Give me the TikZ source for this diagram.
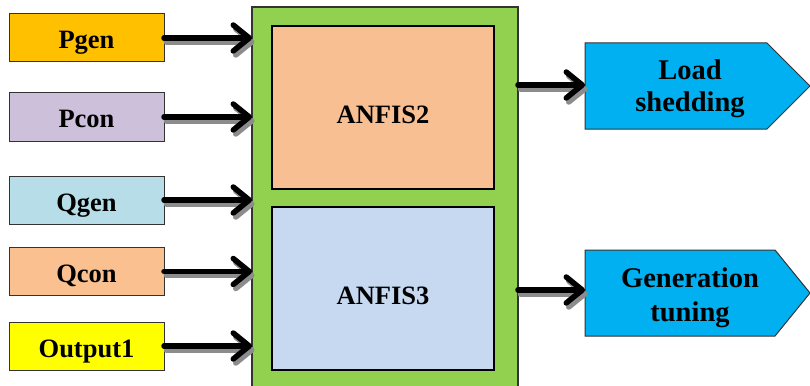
\documentclass[tikz,border=0pt]{standalone}
\usepackage{fontspec}
\setmainfont{Liberation Serif}
\usetikzlibrary{arrows.meta,calc}
\definecolor{cPgen}{HTML}{FFC000}
\definecolor{cPcon}{HTML}{CCC0DA}
\definecolor{cQgen}{HTML}{B7DEE8}
\definecolor{cQcon}{HTML}{FAC090}
\definecolor{cOut}{HTML}{FFFF00}
\definecolor{cGreen}{HTML}{92D050}
\definecolor{cAnf2}{HTML}{F8C092}
\definecolor{cAnf3}{HTML}{C6D9F1}
\definecolor{cBlue}{HTML}{00B0F0}
\definecolor{cEdge}{HTML}{333333}
\definecolor{cShade}{HTML}{8C8C8C}
\tikzset{
  inbox/.style={draw=cEdge, line width=1pt, minimum width=155pt, minimum height=48pt,
    inner sep=0pt, outer sep=0pt, text height=22pt, text depth=0pt,
    font=\fontsize{26.5}{28}\selectfont\bfseries},
  anfis/.style={draw=black, line width=1.2pt, minimum width=222pt, minimum height=163pt,
    inner sep=0pt, outer sep=0pt, text height=31pt, text depth=0pt,
    font=\fontsize{26.5}{28}\selectfont\bfseries},
  outtext/.style={inner sep=0pt, outer sep=0pt, anchor=base,
    font=\fontsize{28.5}{30}\selectfont\bfseries},
  barb/.style={-{Straight Barb[length=16pt, width=26pt, line cap=round, line join=round]}},
  flow/.style={line width=5.5pt, line cap=round, line join=round, barb, draw=black},
  flowshadow/.style={line width=5.5pt, line cap=round, line join=round, barb, draw=cShade},
}
\begin{document}
\begin{tikzpicture}[x=1pt, y=-1pt]
\useasboundingbox (0,0) rectangle (810,385);
\clip (0,0) rectangle (810,385);

% inputs
\node[inbox, fill=cPgen] (pgen) at (86.5,38) {Pgen};
\node[inbox, fill=cPcon] (pcon) at (86.5,117) {Pcon};
\node[inbox, fill=cQgen] (qgen) at (86.5,200) {Qgen};
\node[inbox, fill=cQcon] (qcon) at (86.5,271.5) {Qcon};
\node[inbox, fill=cOut] (out1) at (86.5,346) {Output1};

% controller block
\node[draw=cEdge, line width=2pt, fill=cGreen, minimum width=266pt, minimum height=390pt,
  inner sep=0pt, outer sep=0pt, anchor=north west] (ctrl) at (252,7) {};
\node[anfis, fill=cAnf2] (anf2) at (383,107.5) {ANFIS2};
\node[anfis, fill=cAnf3] (anf3) at (383,288.5) {ANFIS3};

% outputs (pentagon tags)
\coordinate (lsA) at (585,43);
\coordinate (lsB) at (767,43);
\coordinate (lsC) at (810,86);
\coordinate (lsD) at (767,129);
\coordinate (lsE) at (585,129);
\fill[cBlue] (lsA) -- (lsB) -- (lsC) -- (lsD) -- (lsE) -- cycle;
\draw[cEdge, line width=1pt] (lsC) -- (lsB) -- (lsA) -- (lsE) -- (lsD) -- (lsC);
\node[outtext] (ls1) at (690,80) {Load};
\node[outtext] (ls2) at (690,112) {shedding};
\coordinate (lsIn) at (585,85);

\coordinate (gtA) at (585,250);
\coordinate (gtB) at (775,250);
\coordinate (gtC) at (810,293);
\coordinate (gtD) at (775,336);
\coordinate (gtE) at (585,336);
\fill[cBlue] (gtA) -- (gtB) -- (gtC) -- (gtD) -- (gtE) -- cycle;
\draw[cEdge, line width=1pt] (gtC) -- (gtB) -- (gtA) -- (gtE) -- (gtD) -- (gtC);
\node[outtext] (gt1) at (690,287) {Generation};
\node[outtext] (gt2) at (690,321) {tuning};
\coordinate (gtIn) at (585,290);

% connectors, each with a grey drop shadow underneath
\foreach \n in {pgen,pcon,qgen,qcon,out1}{
  \path (\n.east) coordinate (s) (\n.east -| ctrl.west) coordinate (e);
  \draw[flowshadow] ($(s)+(2.5,4)$) -- ($(e)+(2.5,4)$);
  \draw[flow] (s) -- (e);
}
\foreach \t in {lsIn,gtIn}{
  \path (ctrl.east |- \t) coordinate (s) (\t) coordinate (e);
  \draw[flowshadow] ($(s)+(2.5,4)$) -- ($(e)+(2.5,4)$);
  \draw[flow] (s) -- (e);
}
\end{tikzpicture}
\end{document}
